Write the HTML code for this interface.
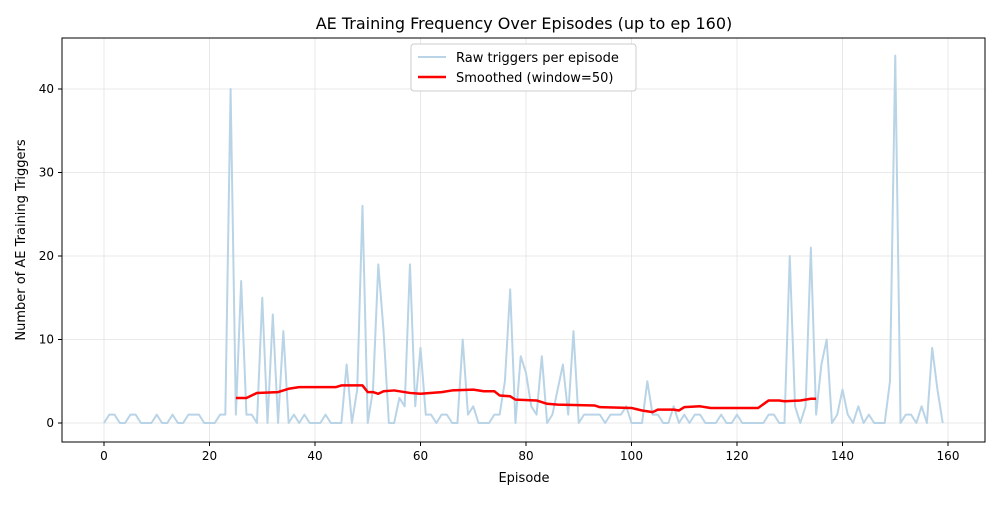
<!DOCTYPE html>
<html><head><meta charset="utf-8"><style>
body{margin:0;background:#fff;font-family:"Liberation Sans","DejaVu Sans",sans-serif}
svg text{font-family:"DejaVu Sans","Liberation Sans",sans-serif}
</style></head><body>
<svg id="chart" width="1000" height="500">
<rect width="1000" height="500" fill="#fff"/>
<g id="grid"></g><g id="marks"></g><g id="axes"></g>
<text x="524" y="29" text-anchor="middle" font-size="16">AE Training Frequency Over Episodes (up to ep 160)</text>
<text x="524" y="482" text-anchor="middle" font-size="13">Episode</text>
<text transform="translate(25,240) rotate(-90)" text-anchor="middle" font-size="13">Number of AE Training Triggers</text>
<g>
<rect x="411" y="44" width="225" height="47" rx="3" fill="#fff" stroke="#ccc"/>
<line x1="418" y1="57" x2="446" y2="57" stroke="#b9d4e6" stroke-width="2"/>
<text x="456" y="62" font-size="13">Raw triggers per episode</text>
<line x1="418" y1="77" x2="446" y2="77" stroke="#ff0000" stroke-width="2.5"/>
<text x="456" y="82" font-size="13">Smoothed (window=50)</text>
</g>
</svg>
<script>
const rawValues=[0,1,1,0,0,1,1,0,0,0,1,0,0,1,0,0,1,1,1,0,0,0,1,1,40,1,17,1,1,0,15,0,13,0,11,0,1,0,1,0,0,0,1,0,0,0,7,0,4,26,0,4,19,11,0,0,3,2,19,2,9,1,1,0,1,1,0,0,10,1,2,0,0,0,1,1,5,16,0,8,6,2,1,8,0,1,4,7,1,11,0,1,1,1,1,0,1,1,1,2,0,0,0,5,1,1,0,0,2,0,1,0,1,1,0,0,0,1,0,0,1,0,0,0,0,0,1,1,0,0,20,2,0,2,21,1,7,10,0,1,4,1,0,2,0,1,0,0,0,5,44,0,1,1,0,2,0,9,4,0];
const smoothEpisodes=[25,27,29,33,35,37,44,45,49,50,51,52,53,55,58,60,64,66,70,72,74,75,77,78,82,84,86,93,94,100,102,104,105,108,109,110,113,115,124,126,128,129,132,134,135];
const smoothValues=[3.0,3.0,3.6,3.7,4.1,4.3,4.3,4.5,4.5,3.7,3.7,3.5,3.8,3.9,3.6,3.5,3.7,3.9,4.0,3.8,3.8,3.3,3.2,2.8,2.7,2.3,2.2,2.1,1.9,1.8,1.5,1.3,1.6,1.6,1.5,1.9,2.0,1.8,1.8,2.7,2.7,2.6,2.7,2.9,2.9];
const xTicks=[0,20,40,60,80,100,120,140,160];
const yTicks=[0,10,20,30,40];
const L=62,R=985,T=38,B=442;
const xs=v=>104+v*(948-104)/160, ys=v=>423-v*(423-89)/40;
const NS='http://www.w3.org/2000/svg';
function mk(tag,attrs,parent){const e=document.createElementNS(NS,tag);for(const k in attrs)e.setAttribute(k,attrs[k]);document.getElementById(parent).appendChild(e);return e;}
xTicks.forEach(t=>{
const g=mk('line',{x1:xs(t),x2:xs(t),y1:T,y2:B,stroke:'#e3e3e3','stroke-width':0.8},'grid');


mk('line',{x1:xs(t),x2:xs(t),y1:B,y2:B+4,stroke:'#000'},'axes');
const tx=mk('text',{x:xs(t),y:B+18,'text-anchor':'middle','font-size':12},'axes');tx.textContent=t;


});
yTicks.forEach(t=>{
const g=mk('line',{x1:L,x2:R,y1:ys(t),y2:ys(t),stroke:'#e3e3e3','stroke-width':0.8},'grid');


mk('line',{x1:L-4,x2:L,y1:ys(t),y2:ys(t),stroke:'#000'},'axes');
const tx=mk('text',{x:L-8,y:ys(t)+4,'text-anchor':'end','font-size':12},'axes');tx.textContent=t;


});
const frame=mk('rect',{x:L,y:T,width:R-L,height:B-T,fill:'none',stroke:'#000','stroke-width':1},'axes');


const raw=mk('polyline',{points:rawValues.map((v,i)=>xs(i)+','+ys(v)).join(' '),fill:'none',stroke:'#b9d4e6','stroke-width':2,'stroke-linejoin':'round'},'marks');


const sm=mk('polyline',{points:smoothValues.map((v,i)=>xs(smoothEpisodes[i])+','+ys(v)).join(' '),fill:'none',stroke:'#ff0000','stroke-width':2.5,'stroke-linejoin':'round'},'marks');


</script>
</body></html>
